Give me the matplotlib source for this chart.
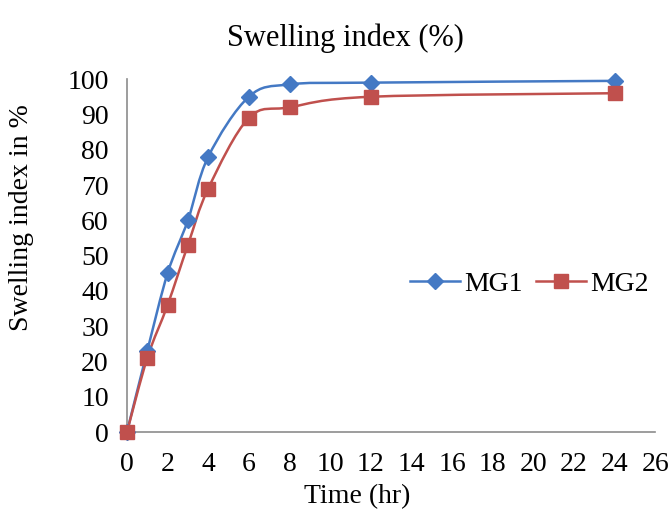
import numpy as np
import matplotlib
matplotlib.use("Agg")
import matplotlib.pyplot as plt
from matplotlib.path import Path
from matplotlib.patches import PathPatch

plt.rcParams['font.family'] = ['Liberation Serif', 'DejaVu Serif']

time_hr = [0, 1, 2, 3, 4, 6, 8, 12, 24]
mg1 = [0, 23, 45, 60, 78, 95, 98.5, 99, 99.5]
mg2 = [0, 21, 36, 53, 69, 89, 92, 95, 96]
x_ticks = list(range(0, 27, 2))
y_ticks = list(range(0, 101, 10))

blue = '#4479c4'
red = '#c0504d'


def smooth_path(x, y):
    """Cubic Bezier path through the points (Catmull-Rom style smoothing)."""
    x = np.asarray(x, float)
    y = np.asarray(y, float)
    n = len(x)
    verts = [(x[0], y[0])]
    codes = [Path.MOVETO]
    for i in range(n - 1):
        p0 = np.array([x[max(i - 1, 0)], y[max(i - 1, 0)]])
        p1 = np.array([x[i], y[i]])
        p2 = np.array([x[i + 1], y[i + 1]])
        p3 = np.array([x[min(i + 2, n - 1)], y[min(i + 2, n - 1)]])
        c1 = p1 + (p2 - p0) / 6.0
        c2 = p2 - (p3 - p1) / 6.0
        verts += [tuple(c1), tuple(c2), tuple(p2)]
        codes += [Path.CURVE4] * 3
    return Path(verts, codes)


fig = plt.figure(figsize=(6.68, 5.17), dpi=100)
ax = fig.add_axes([0.190, 0.164, 0.791, 0.683])

for ys, color, marker, ms, label in [
    (mg1, blue, 'D', 8.5, 'MG1'),
    (mg2, red, 's', 9.5, 'MG2'),
]:
    patch = PathPatch(smooth_path(time_hr, ys), facecolor='none',
                      edgecolor=color, lw=1.8, zorder=2, clip_on=False)
    ax.add_patch(patch)
    ax.plot(time_hr, ys, linestyle='none', marker=marker, markersize=ms,
            color=color, zorder=3, clip_on=False)
    ax.plot([], [], color=color, lw=1.8, marker=marker, markersize=ms,
            label=label)

ax.set_xlim(0, 26)
ax.set_ylim(0, 100)
ax.set_xticks(x_ticks)
ax.set_yticks(y_ticks)
ax.tick_params(length=0, labelsize=20)
ax.tick_params(axis='y', pad=13)
ax.tick_params(axis='x', pad=14)
for s in ['top', 'right']:
    ax.spines[s].set_visible(False)
for s in ['left', 'bottom']:
    ax.spines[s].set_color('#8c8c8c')
    ax.spines[s].set_linewidth(1.2)

fig.text(357 / 668, 1 - 497 / 517, 'Time (hr)', fontsize=20,
         ha='center', va='center')
fig.text(22 / 668, 1 - 218 / 517, 'Swelling index in %', fontsize=20,
         ha='center', va='center', rotation=90)
fig.text(345 / 668, 1 - 38 / 517, 'Swelling index (%)', fontsize=22,
         ha='center', va='center')

ax.legend(loc='center left', bbox_to_anchor=(0.535, 0.42), ncol=2,
          frameon=False, fontsize=20, handlelength=1.8, columnspacing=0.5,
          handletextpad=0.15, borderaxespad=0, borderpad=0)

fig.savefig('out.png', dpi=100)
